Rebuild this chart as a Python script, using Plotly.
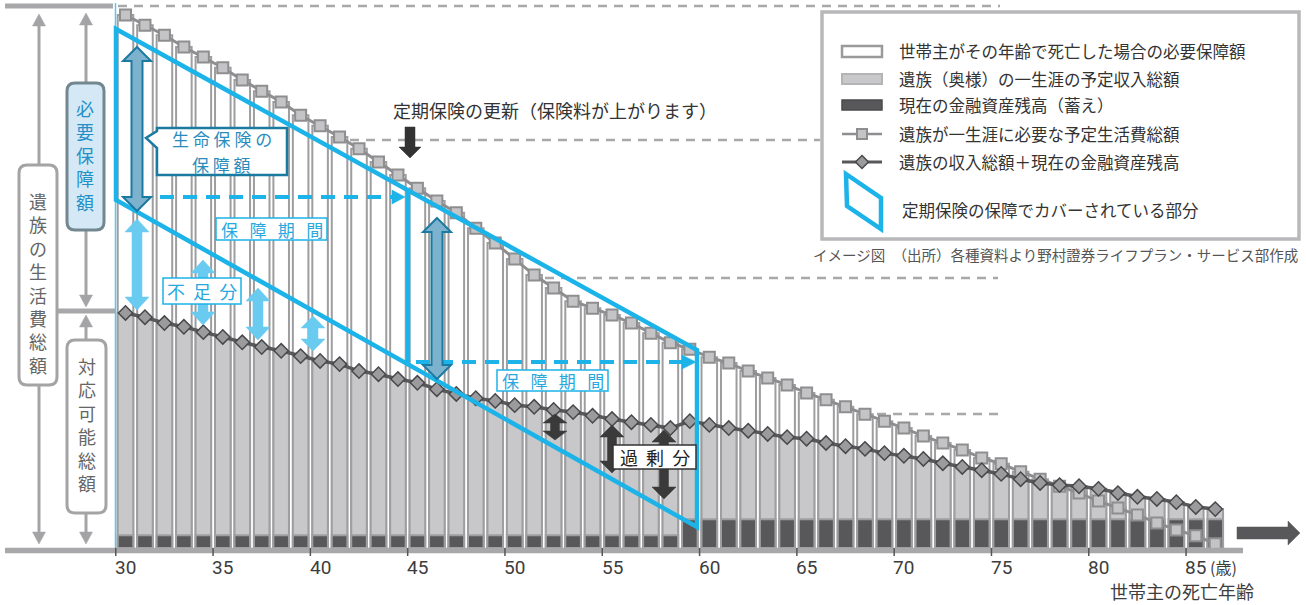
import plotly.graph_objects as go

W, H = 1306, 605
FONT = "Noto Sans CJK JP"

# ---------------- data (arbitrary units) ----------------
ages = list(range(30, 87))
living_total = [100.0, 98.1, 96.2, 94.0, 92.1, 90.1, 87.8, 85.7, 83.7, 81.2,
                79.2, 77.1, 74.9, 72.4, 70.0, 67.5, 65.1, 62.9, 60.0, 57.2,
                54.2, 51.2, 48.8, 46.3, 45.0, 43.7, 42.2, 40.3, 38.5, 37.3,
                35.8, 34.7, 33.2, 31.9, 30.6, 29.1, 27.8, 26.5, 25.1, 23.8,
                22.5, 21.0, 19.7, 18.4, 16.9, 15.8, 14.3, 12.9, 11.6, 10.3,
                8.8, 7.5, 6.2, 4.7, 3.4, 2.3, 0.8]
income_plus_assets = [44.1, 43.3, 42.2, 41.5, 40.5, 39.6, 38.6, 37.7, 37.0, 36.0,
                      35.1, 34.5, 33.2, 32.6, 31.7, 31.0, 29.8, 28.9, 28.1, 27.6,
                      26.8, 26.5, 25.9, 25.5, 24.8, 24.2, 23.6, 23.1, 22.5, 23.8,
                      23.1, 22.5, 22.0, 21.4, 20.8, 20.5, 19.7, 19.1, 18.6, 17.8,
                      17.3, 16.7, 15.9, 15.2, 14.6, 13.9, 12.9, 12.2, 11.8, 11.6,
                      11.1, 10.3, 9.6, 9.2, 8.6, 7.7, 7.3]
assets = [2.4, 2.4, 2.4, 2.4, 2.4, 2.4, 2.4, 2.4, 2.4, 2.4,
          2.4, 2.4, 2.4, 2.4, 2.4, 2.4, 2.4, 2.4, 2.4, 2.4,
          2.4, 2.4, 2.4, 2.4, 2.4, 2.4, 2.4, 2.4, 2.4, 5.4,
          5.4, 5.4, 5.4, 5.4, 5.4, 5.4, 5.4, 5.4, 5.4, 5.4,
          5.4, 5.4, 5.4, 5.4, 5.4, 5.4, 5.4, 5.4, 5.4, 5.4,
          5.4, 5.4, 5.4, 5.4, 5.4, 5.4, 5.4]
tick_ages = [30, 35, 40, 45, 50, 55, 60, 65, 70, 75, 80, 85]
tick_labels = ["30", "35", "40", "45", "50", "55", "60", "65", "70", "75", "80", "85"]

legend_labels = ["世帯主がその年齢で死亡した場合の必要保障額",
                 "遺族（奥様）の一生涯の予定収入総額",
                 "現在の金融資産残高（蓄え）",
                 "遺族が一生涯に必要な予定生活費総額",
                 "遺族の収入総額＋現在の金融資産残高",
                 "定期保険の保障でカバーされている部分"]

# ---------------- layout calibration ----------------
PX30, PX_PER_YEAR = 125.5, 19.46
PY0, PY_PER_UNIT = 548.0, 5.33
x_range = [30 - PX30 / PX_PER_YEAR, 30 + (W - PX30) / PX_PER_YEAR]
y_range = [-(H - PY0) / PY_PER_UNIT, PY0 / PY_PER_UNIT]

CYAN = "#1cb3e8"
LBLUE = "#6acbf1"
TEAL_FILL = "#7db2cf"
TEAL_LINE = "#1b7aa0"
TEAL_TEXT = "#2a8cbc"
GREY = "#a4a4a6"
BAR_LINE = "#9e9ea0"
DARK = "#58585b"


def X(p):
    return p / W


def Y(p):
    return 1 - p / H


def poly(pts, close=True):
    s = "M " + " L ".join(f"{X(a):.5f},{Y(b):.5f}" for a, b in pts)
    return s + (" Z" if close else "")


def rrect(x0, y0, x1, y1, r):
    return (f"M {X(x0 + r)},{Y(y0)} L {X(x1 - r)},{Y(y0)} Q {X(x1)},{Y(y0)} {X(x1)},{Y(y0 + r)} "
            f"L {X(x1)},{Y(y1 - r)} Q {X(x1)},{Y(y1)} {X(x1 - r)},{Y(y1)} L {X(x0 + r)},{Y(y1)} "
            f"Q {X(x0)},{Y(y1)} {X(x0)},{Y(y1 - r)} L {X(x0)},{Y(y0 + r)} Q {X(x0)},{Y(y0)} {X(x0 + r)},{Y(y0)} Z")


fig = go.Figure()

# bars
fig.add_bar(x=ages, y=living_total, width=0.8, hoverinfo="skip",
            marker=dict(color="white", line=dict(color=BAR_LINE, width=2)))
fig.add_bar(x=ages, y=income_plus_assets, width=0.8, hoverinfo="skip",
            marker=dict(color="#c8c8ca", line=dict(color=BAR_LINE, width=2)))
fig.add_bar(x=ages, y=assets, width=0.8, hoverinfo="skip",
            marker=dict(color=DARK, line=dict(color=BAR_LINE, width=2)))
# lines
fig.add_scatter(x=ages, y=living_total, mode="lines+markers", hoverinfo="skip",
                line=dict(color="#8e8e90", width=3),
                marker=dict(symbol="square", size=11, color="#c4c4c6",
                            line=dict(color="#8e8e90", width=2)))
fig.add_scatter(x=ages, y=income_plus_assets, mode="lines+markers", hoverinfo="skip",
                line=dict(color=DARK, width=3.5),
                marker=dict(symbol="diamond", size=11, color="#9b9b9d",
                            line=dict(color="#48484b", width=1.5)))

shapes = []
anns = []


def add_line(x0, y0, x1, y1, color, width, dash=None, layer="above"):
    d = dict(type="line", xref="paper", yref="paper", x0=X(x0), y0=Y(y0), x1=X(x1), y1=Y(y1),
             line=dict(color=color, width=width), layer=layer)
    if dash:
        d["line"]["dash"] = dash
    shapes.append(d)


def add_path(path, fill=None, color=None, width=0, layer="above"):
    d = dict(type="path", xref="paper", yref="paper", path=path, layer=layer,
             line=dict(color=color if color else "rgba(0,0,0,0)", width=width))
    if fill:
        d["fillcolor"] = fill
    shapes.append(d)


def add_text(x, y, s, size, color, xanchor="center", family=FONT):
    anns.append(dict(xref="paper", yref="paper", x=X(x), y=Y(y), text=s, showarrow=False,
                     xanchor=xanchor, yanchor="middle",
                     font=dict(family=family, size=size, color=color)))


def vdouble(xc, yt, yb, sw, hw, hh, fill, color=None, width=0):
    pts = [(xc, yt), (xc + hw, yt + hh), (xc + sw, yt + hh), (xc + sw, yb - hh), (xc + hw, yb - hh),
           (xc, yb), (xc - hw, yb - hh), (xc - sw, yb - hh), (xc - sw, yt + hh), (xc - hw, yt + hh)]
    add_path(poly(pts), fill, color, width)


# dashed grey level lines
NBSP = "\u00a0"
add_line(118, 6, 1000, 6, "#a8a8aa", 2.5, "9px,7px", "below")
add_line(350, 140, 820, 140, "#a8a8aa", 2.5, "9px,7px", "below")
add_line(545, 278, 998, 278, "#a8a8aa", 2.5, "9px,7px", "below")
add_line(877, 414, 998, 414, "#a8a8aa", 2.5, "9px,7px", "below")

# grey structural lines
add_line(5, 6, 113, 6, "#a8a8aa", 5)
add_line(57, 311, 116, 311, "#a8a8aa", 5)
add_line(5, 550.5, 1243, 550.5, "#a8a8aa", 5.5)
add_line(115.5, 3, 115.5, 548, "#5ec5ee", 1.5)

# tick marks at the left edge of the labelled bars
for a in tick_ages:
    shapes.append(dict(type="line", xref="x", yref="paper", x0=a - 0.5, x1=a - 0.5,
                       y0=Y(548), y1=Y(556), line=dict(color="#555", width=1.5), layer="above"))

# right arrow
add_path(poly([(1237, 527), (1288, 527), (1288, 521), (1300, 533), (1288, 545), (1288, 539), (1237, 539)]),
         DARK, DARK, 0.5)

# left grey arrows
def garrow_tip(xc, ytip, direction):
    hw, hh = 6.5, 12
    if direction == "up":
        add_path(poly([(xc, ytip), (xc + hw, ytip + hh), (xc - hw, ytip + hh)]), GREY, GREY, 0.5)
    else:
        add_path(poly([(xc, ytip), (xc + hw, ytip - hh), (xc - hw, ytip - hh)]), GREY, GREY, 0.5)


add_line(39, 20, 39, 165, GREY, 3)
add_line(39, 385, 39, 536, GREY, 3)
garrow_tip(39, 14, "up")
garrow_tip(39, 544, "down")
add_line(86, 20, 86, 83, GREY, 3)
add_line(86, 230, 86, 300, GREY, 3)
garrow_tip(86, 13, "up")
garrow_tip(86, 307, "down")
add_line(86, 322, 86, 340, GREY, 3)
add_line(86, 513, 86, 536, GREY, 3)
garrow_tip(86, 315, "up")
garrow_tip(86, 544, "down")

# left boxes with vertical text
add_path(rrect(19, 165, 57, 385, 8), "white", GREY, 3)
add_path(rrect(67, 83, 104, 230, 8), "#d4e9f5", "#72878f", 3)
add_path(rrect(67, 340, 106, 513, 8), "white", GREY, 3)
add_text(38, 283, "<br>".join("遺族の生活費総額"), 18, "#666")
add_text(85.5, 155, "<br>".join("必要保障額"), 18, "#2590c8")
add_text(86.5, 424, "<br>".join("対応可能総額"), 18, "#666")

# cyan parallelograms (term insurance coverage)
add_path(poly([(116, 29), (697, 350), (697, 527), (116, 200)]), None, CYAN, 4.5)
add_line(408, 190, 408, 365, CYAN, 4.5)

# dashed cyan arrows (保障期間)
add_line(160, 197, 392, 197, CYAN, 4, "14px,9px")
add_path(poly([(392, 190), (405, 197), (392, 204)]), CYAN, CYAN, 0.5)
add_line(416, 362, 682, 362, CYAN, 4, "14px,9px")
add_path(poly([(682, 355), (696, 362), (682, 369)]), CYAN, CYAN, 0.5)

# teal double arrows (生命保険の保障額)
vdouble(137, 47, 211, 5.5, 14, 14, TEAL_FILL, TEAL_LINE, 2)
vdouble(437, 218, 379, 5.5, 14, 14, TEAL_FILL, TEAL_LINE, 2)

# light blue double arrows (不足分)
vdouble(137, 219, 310, 5, 12, 13, LBLUE, LBLUE, 0.5)
vdouble(203, 260, 325, 5, 12, 13, LBLUE, LBLUE, 0.5)
vdouble(258, 288, 340, 5, 12, 13, LBLUE, LBLUE, 0.5)
vdouble(313, 316, 351, 5, 12, 12, LBLUE, LBLUE, 0.5)

# dark double arrows (過剰分)
vdouble(555, 414, 440, 4.5, 12, 9, "#3a3a3a", "#3a3a3a", 0.5)
vdouble(612, 425, 473, 4.5, 12, 12, "#3a3a3a", "#3a3a3a", 0.5)
vdouble(664, 430, 499, 4.5, 12, 12, "#3a3a3a", "#3a3a3a", 0.5)

# black down arrow (renewal)
add_path(poly([(405, 127), (415, 127), (415, 147), (421, 147), (410, 158), (399, 147), (405, 147)]),
         "#333", "#333", 0.5)
add_text(555, 110, "定期保険の更新（保険料が上がります）", 18, "#333")

# callout box 生命保険の保障額
add_path(poly([(157, 128), (287, 128), (287, 175), (157, 175), (157, 148), (146, 138), (157, 131)]),
         "white", TEAL_LINE, 2.5)
add_text(222, 139, NBSP.join("生命保険の"), 17, TEAL_TEXT)
add_text(222, 164, NBSP.join("保障額"), 17, TEAL_TEXT)

# labels in boxes
add_path(poly([(216, 218), (327, 218), (327, 240), (216, 240)]), "white", CYAN, 1.5)
add_text(272, 229, (NBSP * 3).join("保障期間"), 17, "#29a8dd")
add_path(poly([(497, 370), (608, 370), (608, 391), (497, 391)]), "white", CYAN, 1.5)
add_text(553, 380.5, (NBSP * 3).join("保障期間"), 17, "#29a8dd")
add_path(poly([(163, 278), (241, 278), (241, 304), (163, 304)]), "white", CYAN, 1.5)
add_text(202, 291, (NBSP * 2).join("不足分"), 18, "#29a8dd")
add_path(poly([(613, 445), (696, 445), (696, 469), (613, 469)]), "white", "#333", 1.5)
add_text(654.5, 457, (NBSP * 2).join("過剰分"), 18, "#222")

# legend
add_path(poly([(822, 12), (1299, 12), (1299, 239), (822, 239)]), "white", "#b8b8ba", 3.5)
add_path(poly([(842, 46), (882, 46), (882, 57), (842, 57)]), "white", "#9a9a9c", 2.5)
add_path(poly([(842, 74), (882, 74), (882, 84), (842, 84)]), "#c8c8ca", "#b4b4b6", 2)
add_path(poly([(842, 100), (882, 100), (882, 110), (842, 110)]), DARK, "#4a4a4d", 1.5)
add_line(842, 134, 882, 134, "#8e8e90", 2.5)
add_path(poly([(857, 129), (867, 129), (867, 139), (857, 139)]), "#c4c4c6", "#8e8e90", 2)
add_line(842, 162, 882, 162, DARK, 3)
add_path(poly([(862, 155.5), (868.5, 162), (862, 168.5), (855.5, 162)]), "#9b9b9d", "#48484b", 1.5)
add_path(poly([(846, 174), (881, 198), (881, 229), (847, 206)]), None, CYAN, 4.5)
legend_y = [51, 79, 105, 134, 162]
for lab, yy in zip(legend_labels[:5], legend_y):
    add_text(897, yy, lab, 16.5, "#333", xanchor="left")
add_text(900, 210, legend_labels[5], 16.5, "#333", xanchor="left")
add_text(1300, 255, "イメージ図\u3000（出所）各種資料より野村證券ライフプラン・サービス部作成", 14.5, "#555",
         xanchor="right")

# axis labels (positioned by the x scale)
for a, lab in zip(tick_ages, tick_labels):
    anns.append(dict(xref="x", yref="paper", x=a, y=Y(567), text=lab, showarrow=False,
                     xanchor="center", yanchor="middle",
                     font=dict(family="Roboto", size=19, color="#3d3d3d")))
add_text(1208, 567, "(歳)", 16, "#3d3d3d", xanchor="left")
add_text(1182, 591, "世帯主の死亡年齢", 18, "#3d3d3d")

fig.update_layout(
    width=W, height=H, margin=dict(l=0, r=0, t=0, b=0),
    paper_bgcolor="white", plot_bgcolor="white",
    barmode="overlay", showlegend=False,
    xaxis=dict(range=x_range, visible=False, fixedrange=True),
    yaxis=dict(range=y_range, visible=False, fixedrange=True),
    shapes=shapes, annotations=anns,
    font=dict(family=FONT),
)

fig.write_html("out.html", config={"displayModeBar": False},
               post_script="document.body.style.margin='0px';document.body.style.overflow='hidden';")
